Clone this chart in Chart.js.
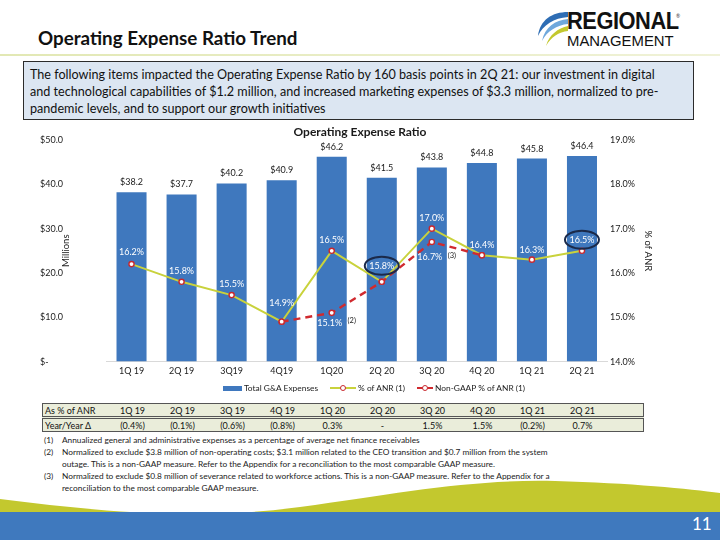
<!DOCTYPE html>
<html><head><meta charset="utf-8">
<script src="https://cdn.jsdelivr.net/npm/chart.js@4.4.1/dist/chart.umd.min.js"></script>
<style>
html,body{margin:0;padding:0;}
body{width:720px;height:540px;position:relative;overflow:hidden;background:#fff;font-family:Lato,"Open Sans",sans-serif;color:#1a1a1a;}
.abs{position:absolute;}
#title{left:38px;top:26px;font-size:18.8px;font-weight:bold;color:#111;white-space:nowrap;}
#hline{left:0;top:54px;width:720px;height:2px;background:linear-gradient(to right,#e2e8b4,#f0f2d8);}
#box{left:23px;top:61px;width:671px;height:59px;background:#dce6f2;border:1px solid #2b2b2b;box-sizing:border-box;padding:4px 0 0 6px;font-size:12.6px;line-height:17px;color:#111;white-space:nowrap;}
#chartWrap{left:40px;top:121px;width:654px;height:262px;}
#legend{left:0;top:382px;width:748px;height:12px;display:flex;justify-content:center;align-items:center;font-size:8.4px;color:#222;white-space:nowrap;}
.lg{display:flex;align-items:center;margin:0 4px;}
.sw{position:relative;display:inline-block;height:10px;margin-right:2px;}
table{border-collapse:collapse;}
#tbl{left:42px;top:403px;width:602px;font-size:9px;color:#111;background:#eaedda;border:1px solid #555;}
#tbl td{height:12px;padding:0;text-align:center;}
#tbl td.first{text-align:left;padding-left:2px;width:62.5px;}
#tbl tr.r1 td{border-bottom:3px double #555;}
#notes{left:44px;top:434px;font-size:8.3px;line-height:12px;color:#222;}
.fn{display:flex;white-space:nowrap;}
.fn .n{width:18px;}
#page{left:692px;top:513px;font-size:17px;color:#fff;}
#logo{left:530px;top:6px;width:180px;height:44px;}
</style></head>
<body>
<svg class="abs" style="left:0;top:0" width="720" height="540">
  <path d="M0,499 C90,510 190,522 300,507 C400,493 470,479 555,481 C630,483 690,489 720,493 L720,540 L0,540 Z" fill="#c3c82e"/>
  <rect x="0" y="512" width="720" height="28" fill="#3f79be"/>
</svg>
<div id="logo" class="abs">
  <svg class="abs" style="left:0;top:0" width="40" height="44">
    <path d="M38,6 C22,6 10,14 8,30 C13,19 24,12 38,11 Z" fill="#2e6db4"/>
    <path d="M38,13 C25,14 15,21 12,35 C17,25 27,19 38,18 Z" fill="#6fa8dc"/>
    <path d="M38,20 C28,22 19,29 16,40 C21,31 29,26 38,25 Z" fill="#c3c82e"/>
  </svg>
  <div class="abs" style="left:37px;top:2px;font-family:'Liberation Sans Narrow','Liberation Sans',Arial,sans-serif;font-weight:bold;font-size:23.5px;letter-spacing:-0.5px;color:#111;line-height:26px;transform:scaleX(0.93);transform-origin:left;">REGIONAL</div>
  <div class="abs" style="left:146px;top:7px;font-size:5px;color:#333;">®</div>
  <div class="abs" style="left:37px;top:26px;font-family:'Liberation Sans Narrow','Liberation Sans',Arial,sans-serif;font-size:15.5px;color:#111;line-height:17px;transform:scaleX(0.96);transform-origin:left;">MANAGEMENT</div>
</div>
<div id="title" class="abs">Operating Expense Ratio Trend</div>
<div id="hline" class="abs"></div>
<div id="box" class="abs">The following items impacted the Operating Expense Ratio by 160 basis points in 2Q 21: our investment in digital<br>and technological capabilities of $1.2 million, and increased marketing expenses of $3.3 million, normalized to pre-<br>pandemic levels, and to support our growth initiatives</div>
<div id="chartWrap" class="abs"><canvas id="c" width="654" height="262"></canvas></div>
<div id="legend" class="abs">
  <div class="lg"><span class="sw" style="width:19px;"><span class="abs" style="left:0;top:3px;width:19px;height:5px;background:#3f78be;"></span></span>Total G&amp;A Expenses</div>
  <div class="lg" style="margin-left:8px;"><span class="sw" style="width:26px;"><span class="abs" style="left:0;top:4px;width:26px;height:2px;background:#c9d23c;"></span><span class="abs" style="left:10px;top:2px;width:4px;height:4px;border:1.3px solid #c8282e;border-radius:50%;background:#fff;"></span></span>% of ANR (1)</div>
  <div class="lg" style="margin-left:8px;"><span class="sw" style="width:16px;"><span class="abs" style="left:0;top:4px;width:16px;height:2px;background:#d02a2f;"></span><span class="abs" style="left:5px;top:2px;width:4px;height:4px;border:1.3px solid #c8282e;border-radius:50%;background:#fff;"></span></span>Non-GAAP % of ANR (1)</div>
</div>
<table id="tbl" class="abs"><tbody id="tb"></tbody></table>
<div id="notes" class="abs">
  <div class="fn"><span class="n">(1)</span><span>Annualized general and administrative expenses as a percentage of average net finance receivables</span></div>
  <div class="fn"><span class="n">(2)</span><span>Normalized to exclude $3.8 million of non-operating costs; $3.1 million related to the CEO transition and $0.7 million from the system<br>outage. This is a non-GAAP measure. Refer to the Appendix for a reconciliation to the most comparable GAAP measure.</span></div>
  <div class="fn"><span class="n">(3)</span><span>Normalized to exclude $0.8 million of severance related to workforce actions. This is a non-GAAP measure. Refer to the Appendix for a<br>reconciliation to the most comparable GAAP measure.</span></div>
</div>
<div id="page" class="abs">11</div>
<script>
// ---- data ----
const categories = ['1Q 19','2Q 19','3Q19','4Q19','1Q20','2Q 20','3Q 20','4Q 20','1Q 21','2Q 21'];
const tableQuarters = ['1Q 19','2Q 19','3Q 19','4Q 19','1Q 20','2Q 20','3Q 20','4Q 20','1Q 21','2Q 21'];
const gaExpenses = [38.2, 37.7, 40.2, 40.9, 46.2, 41.5, 43.8, 44.8, 45.8, 46.4];
const pctOfANR = [16.2, 15.8, 15.5, 14.9, 16.5, 15.8, 17.0, 16.4, 16.3, 16.5];
const nonGaapPctOfANR = [null, null, null, 14.9, 15.1, 15.8, 16.7, 16.4, null, null];
const yoyChange = ['(0.4%)','(0.1%)','(0.6%)','(0.8%)','0.3%','-','1.5%','1.5%','(0.2%)','0.7%'];
const leftTicks = [0, 10, 20, 30, 40, 50];
const rightTicks = [14, 15, 16, 17, 18, 19];

// ---- label styling (offsets in px, not data) ----
const anrLabelDy = [-12,-11,-11,-19,-11,-16,-11,-10,-10,-11];
const nonGaapLabelShow = [false,false,false,false,true,false,true,false,false,false];
const nonGaapLabelDy = [0,0,0,0,10,0,15,0,0,0];
const circled = [5, 9];
const footRefs = {4:'(2)', 6:'(3)'};
const footRefDy = {4:7.5, 6:13.5};

// table
const tb = document.getElementById('tb');
function row(cls, first, arr){
  const tr = document.createElement('tr'); tr.className = cls;
  let h = '<td class="first">'+first+'</td>';
  arr.forEach(v=>{ h += '<td style="width:50px">'+v+'</td>'; });
  h += '<td></td>';
  tr.innerHTML = h; tb.appendChild(tr);
}
row('r1','As % of ANR', tableQuarters);
row('r2','Year/Year Δ', yoyChange);

const FONT = 'Lato, "Open Sans", sans-serif';
Chart.defaults.font.family = FONT;

const labelPlugin = {
  id: 'valueLabels',
  afterDatasetsDraw(chart){
    const ctx = chart.ctx;
    ctx.save();
    ctx.textAlign = 'center'; ctx.textBaseline = 'middle';
    const bm = chart.getDatasetMeta(0);
    ctx.font = '9px ' + FONT; ctx.fillStyle = '#1a1a1a';
    bm.data.forEach((el,i)=>{ ctx.fillText('$'+gaExpenses[i].toFixed(1), el.x, el.y - 10); });
    const am = chart.getDatasetMeta(1);
    ctx.font = '9px ' + FONT;
    am.data.forEach((el,i)=>{
      const y = el.y + anrLabelDy[i];
      ctx.fillStyle = '#ffffff';
      ctx.fillText(pctOfANR[i].toFixed(1)+'%', el.x, y);
      if (circled.includes(i)) {
        ctx.strokeStyle = '#1b2a4a'; ctx.lineWidth = 2;
        ctx.beginPath(); ctx.ellipse(el.x, y, 17, 9, 0, 0, Math.PI*2); ctx.stroke();
      }
    });
    const nm = chart.getDatasetMeta(2);
    nm.data.forEach((el,i)=>{
      if (!nonGaapLabelShow[i]) return;
      const y = el.y + nonGaapLabelDy[i];
      ctx.font = '9px ' + FONT; ctx.fillStyle = '#ffffff';
      ctx.fillText(nonGaapPctOfANR[i].toFixed(1)+'%', el.x - 2, y);
      if (footRefs[i]) {
        ctx.font = '7.5px ' + FONT; ctx.fillStyle = '#222';
        ctx.fillText(footRefs[i], el.x + 20, el.y + footRefDy[i]);
      }
    });
    ctx.restore();
  }
};

new Chart(document.getElementById('c'), {
  data: {
    labels: categories,
    datasets: [
      { type:'bar', label:'Total G&A Expenses', data: gaExpenses, yAxisID:'y',
        backgroundColor:'#3f78be', barPercentage:0.6, categoryPercentage:1.0, order:3 },
      { type:'line', label:'% of ANR (1)', data: pctOfANR, yAxisID:'y1',
        borderColor:'#c9d23c', borderWidth:2, pointRadius:2.6, pointBorderWidth:1.4,
        pointBackgroundColor:'#ffffff', pointBorderColor:'#c8282e', tension:0, order:1 },
      { type:'line', label:'Non-GAAP % of ANR (1)', data: nonGaapPctOfANR, yAxisID:'y1',
        borderColor:'#d02a2f', borderWidth:2.4, borderDash:[7,5], pointRadius:2.6, pointBorderWidth:1.4,
        pointBackgroundColor:'#ffffff', pointBorderColor:'#c8282e', tension:0, spanGaps:false, order:0 }
    ]
  },
  options: {
    responsive:false, animation:false,
    layout:{ padding:{ top:0, bottom:2.6, left:0, right:14 } },
    plugins:{
      legend:{ display:false },
      tooltip:{ enabled:false },
      title:{ display:true, text:'Operating Expense Ratio', color:'#1a1a1a',
        font:{ size:12, weight:'bold' }, padding:{ top:4, bottom:0.6 } }
    },
    scales:{
      x:{ grid:{ display:false, drawTicks:false }, border:{ display:true, color:'#d9d9d9' },
          ticks:{ padding:4, color:'#222', font:{ size:9 }, maxRotation:0, autoSkip:false } },
      y:{ position:'left', min:0, max:50, afterBuildTicks(s){ s.ticks = leftTicks.map(v=>({value:v})); },
          grid:{ display:false, drawTicks:false }, border:{ display:false },
          ticks:{ padding:8, crossAlign:'far', color:'#222', font:{ size:9 },
                  callback:v=> v===0 ? '$-' : '$'+v.toFixed(1) },
          title:{ display:true, text:'Millions', color:'#222', font:{ size:9.5 }, padding:{ top:20, bottom:0 } },
          afterFit(s){ s.width = 66.5; } },
      y1:{ position:'right', min:14, max:19, afterBuildTicks(s){ s.ticks = rightTicks.map(v=>({value:v})); },
          grid:{ display:false, drawTicks:false }, border:{ display:false },
          ticks:{ padding:3, color:'#222', font:{ size:9 }, callback:v=> v.toFixed(1)+'%' },
          title:{ display:true, text:'% of ANR', color:'#222', font:{ size:9.5 }, padding:{ top:26, bottom:0 } },
          afterFit(s){ s.width = 73; } }
    }
  },
  plugins:[labelPlugin]
});
</script>
</body></html>
